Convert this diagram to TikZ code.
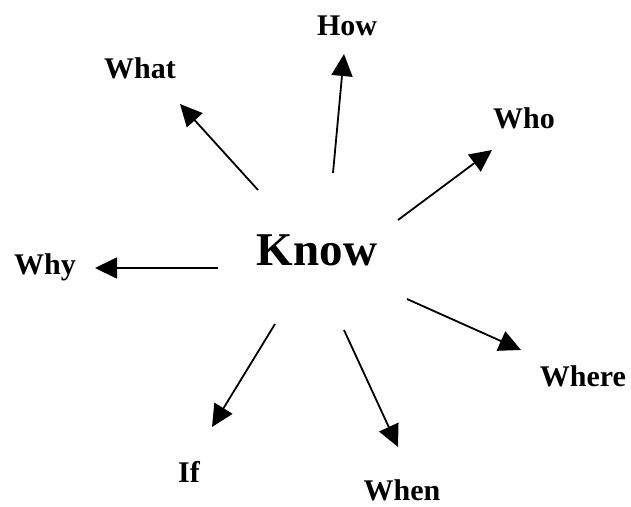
\documentclass[tikz,border=0pt]{standalone}
\usepackage{fontspec}
\setmainfont{Liberation Serif}
\usetikzlibrary{arrows.meta}
\begin{document}
\begin{tikzpicture}[x=1pt,y=-1pt,
	word/.style={font=\bfseries\fontsize{30}{36}\selectfont, anchor=base, inner sep=0pt},
	spoke/.style={line width=1.8pt, -{Triangle[length=22pt,width=21pt]}}]
	\useasboundingbox (0,0) rectangle (631,506);
	\node[word, font=\bfseries\fontsize{47}{56}\selectfont] (know) at (317,265) {Know};
	\node[word] (what) at (140,78) {What};
	\node[word] (how) at (347,35) {How};
	\node[word] (who) at (524,128) {Who};
	\node[word] (why) at (45,274) {Why};
	\node[word] (where) at (583,386) {Where};
	\node[word] (if) at (189,482) {If};
	\node[word] (when) at (402,500) {When};
	% spoke ends
	\coordinate (whatA) at (258,190); \coordinate (whatB) at (180,104);
	\coordinate (howA) at (333,173); \coordinate (howB) at (344,54);
	\coordinate (whoA) at (398,220); \coordinate (whoB) at (492,150);
	\coordinate (whyA) at (218,268); \coordinate (whyB) at (95,268);
	\coordinate (whereA) at (407,299); \coordinate (whereB) at (521,350);
	\coordinate (ifA) at (275,324); \coordinate (ifB) at (212,427);
	\coordinate (whenA) at (344,330); \coordinate (whenB) at (398,447);
	\draw[spoke] (whatA)--(whatB);
	\draw[spoke] (howA)--(howB);
	\draw[spoke] (whoA)--(whoB);
	\draw[spoke] (whyA)--(whyB);
	\draw[spoke] (whereA)--(whereB);
	\draw[spoke] (ifA)--(ifB);
	\draw[spoke] (whenA)--(whenB);
\end{tikzpicture}
\end{document}
